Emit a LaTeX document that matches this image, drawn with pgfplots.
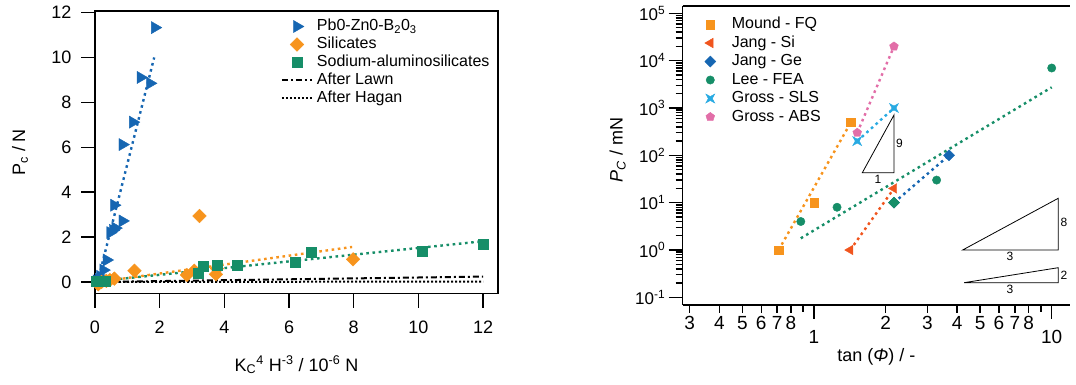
\documentclass[border=0pt]{standalone}
\usepackage{fontspec}
\setmainfont{Liberation Sans}
\usepackage{pgfplots}
\pgfplotsset{compat=1.18}
\definecolor{cblue}{RGB}{22,102,178}
\definecolor{corange}{RGB}{247,148,29}
\definecolor{cgreen}{RGB}{22,142,104}
\definecolor{cverm}{RGB}{240,85,30}
\definecolor{csky}{RGB}{40,170,226}
\definecolor{cpink}{RGB}{226,110,168}
\pgfdeclareplotmark{fourstar}{%
  \pgfpathmoveto{\pgfqpoint{\pgfplotmarksize}{\pgfplotmarksize}}%
  \pgfpathlineto{\pgfqpoint{0pt}{0.45\pgfplotmarksize}}%
  \pgfpathlineto{\pgfqpoint{-\pgfplotmarksize}{\pgfplotmarksize}}%
  \pgfpathlineto{\pgfqpoint{-0.45\pgfplotmarksize}{0pt}}%
  \pgfpathlineto{\pgfqpoint{-\pgfplotmarksize}{-\pgfplotmarksize}}%
  \pgfpathlineto{\pgfqpoint{0pt}{-0.45\pgfplotmarksize}}%
  \pgfpathlineto{\pgfqpoint{\pgfplotmarksize}{-\pgfplotmarksize}}%
  \pgfpathlineto{\pgfqpoint{0.45\pgfplotmarksize}{0pt}}%
  \pgfpathclose
  \pgfusepathqfillstroke}
\pgfplotsset{
  trend/.style={line width=2.4pt, dash pattern=on 2.6pt off 3.6pt, forget plot},
  legend image code/.code={\draw[mark repeat=2,mark phase=2,#1] plot coordinates {(0pt,0pt)(15pt,0pt)(30pt,0pt)};},
}
\begin{document}
\begin{tikzpicture}
\path[use as bounding box] (0,0) rectangle (1076pt,385pt);
% ---------------- left axis ----------------
\begin{axis}[
  at={(95pt,91.2pt)}, anchor=south west, scale only axis,
  width=403pt, height=282.8pt,
  xmin=0, xmax=12.46, ymin=-0.526, ymax=12.07,
  xtick={0,2,...,12}, ytick={0,2,...,12},
  tick pos=left, tick align=outside, major tick length=14pt,
  /pgf/number format/assume math mode=true,
  tick label style={font=\fontsize{18}{20}\selectfont},
  xticklabel style={yshift=-10pt},
  yticklabel style={xshift=-6pt},
  axis line style={line width=1.4pt},
  every tick/.style={line width=1.4pt, black},
  xlabel={K\textsubscript{C}\textsuperscript{4} H\textsuperscript{-3} / 10\textsuperscript{-6} N},
  ylabel={P\textsubscript{c} / N},
  label style={font=\fontsize{18}{20}\selectfont},
  xlabel style={at={(axis description cs:0.5,-0.252)}, anchor=center},
  ylabel style={at={(axis description cs:-0.186,0.5)}, anchor=center},
  legend style={draw=none, fill=none, at={(0.4615,0.977)}, anchor=north west,
    inner sep=0pt, outer sep=0pt, font=\fontsize{16}{18}\selectfont,
    row sep=0pt, column sep=3pt,
    nodes={inner sep=1pt, text height=12pt, text depth=4pt}},
  legend cell align=left,
]
\addplot[cblue, trend] coordinates {(0.08,0) (1.83,10.0)};
\addplot[corange, trend] coordinates {(0.1,0) (7.95,1.56)};
\addplot[cgreen, trend] coordinates {(0,0.02) (11.9,1.8)};
\addplot[only marks, color=cblue, mark=triangle*, mark size=7pt, mark options={rotate=-90, fill=cblue, draw=cblue}]
 coordinates {(0.05,0.05) (0.12,0.12) (0.16,0.25) (0.26,0.53) (0.36,0.98) (0.47,2.2) (0.55,2.3) (0.63,2.4)
 (0.85,2.72) (0.59,3.42) (0.85,6.12) (1.17,7.12) (1.41,9.11) (1.70,8.85) (1.85,11.33)};
\addplot[only marks, color=corange, mark=square*, mark size=4.8pt, mark options={rotate=45, fill=corange, draw=corange}]
 coordinates {(0.1,-0.1) (0.2,0.0) (0.35,0.05) (0.46,0.09) (0.6,0.15) (1.22,0.50) (2.84,0.31) (3.07,0.50)
 (3.23,2.94) (3.74,0.34) (3.77,0.60) (7.98,1.01)};
\addplot[only marks, color=cgreen, mark=square*, mark size=5pt, mark options={fill=cgreen, draw=cgreen}]
 coordinates {(0.05,0.05) (0.3,0.05) (3.19,0.41) (3.35,0.71) (3.77,0.76) (4.41,0.76) (6.19,0.88) (6.69,1.31) (10.13,1.39) (11.99,1.69)};
\addplot[black, line width=2pt, dash pattern=on 6pt off 3pt on 2pt off 3pt] coordinates {(0,0) (12,0.24)};
\addplot[black, line width=2pt, dash pattern=on 2pt off 2pt] coordinates {(0,0) (12,0.02)};
\legend{Pb0-Zn0-B\textsubscript{2}0\textsubscript{3}, Silicates, Sodium-aluminosilicates, After Lawn, After Hagan}
\end{axis}
% ---------------- right axis ----------------
\begin{axis}[
  at={(682.7pt,80pt)}, anchor=south west, scale only axis,
  width=387.3pt, height=299pt,
  xmode=log, ymode=log,
  xmin=0.2803, xmax=11.94, ymin=0.0689, ymax=1.43e5,
  axis x line*=bottom, axis y line*=left, clip=false,
  tick align=outside, major tick length=14pt, minor tick length=7pt,
  axis line style={line width=1.4pt},
  every tick/.style={line width=1.4pt, black},
  ytick={0.1,1,10,100,1000,10000,100000},
  yticklabels={10\textsuperscript{-1},10\textsuperscript{0},10\textsuperscript{1},10\textsuperscript{2},10\textsuperscript{3},10\textsuperscript{4},10\textsuperscript{5}},
  minor ytick={0.2,0.3,0.4,0.5,0.6,0.7,0.8,0.9,2,3,4,5,6,7,8,9,20,30,40,50,60,70,80,90,200,300,400,500,600,700,800,900,2000,3000,4000,5000,6000,7000,8000,9000,20000,30000,40000,50000,60000,70000,80000,90000},
  yticklabel style={font=\fontsize{17}{19}\selectfont},
  xtick={1,10}, xticklabels={1,10},
  xticklabel style={font=\fontsize{19}{21}\selectfont, yshift=-8pt},
  minor xtick={0.3,0.4,0.5,0.6,0.7,0.8,0.9,2,3,4,5,6,7,8,9},
  extra x ticks={0.3,0.4,0.5,0.6,0.7,0.8,2,3,4,5,6,7,8},
  extra x tick labels={3,4,5,6,7,8,2,3,4,5,6,7,8},
  extra x tick style={major tick length=8pt, tick label style={font=\fontsize{14}{16}\selectfont, yshift=8pt}},
  xlabel={tan (\textit{Φ}) / -},
  ylabel={\textit{P}\textsubscript{\textit{C}} / mN},
  label style={font=\fontsize{18}{20}\selectfont},
  xlabel style={at={(axis description cs:0.5,-0.173)}, anchor=center},
  ylabel style={at={(axis description cs:-0.168,0.518)}, anchor=center},
  legend style={draw=none, fill=none, at={(0.057,0.969)}, anchor=north west,
    inner sep=0pt, outer sep=0pt, font=\fontsize{16}{18}\selectfont,
    row sep=0pt, column sep=15pt,
    nodes={inner sep=1pt, text height=12.5pt, text depth=4pt}},
  legend cell align=left,
]
\addplot[corange, trend] coordinates {(0.71,1) (1.43,500)};
\addplot[cverm, trend] coordinates {(1.42,1) (2.17,20)};
\addplot[cblue, trend] coordinates {(2.17,10) (3.7,100)};
\addplot[cgreen, trend] coordinates {(0.88,1.77) (10,2740)};
\addplot[csky, trend] coordinates {(1.52,200) (2.17,1000)};
\addplot[cpink, trend] coordinates {(1.52,300) (2.17,20000)};
\addplot[only marks, color=corange, mark=square*, mark size=4.3pt, mark options={fill=corange, draw=corange}]
 coordinates {(0.71,1) (1.0,10) (1.43,500)};
\addplot[only marks, color=cverm, mark=triangle*, mark size=5.5pt, mark options={rotate=90, fill=cverm, draw=cverm}]
 coordinates {(1.42,1) (2.17,20)};
\addplot[only marks, color=cblue, mark=square*, mark size=3.9pt, mark options={rotate=45, fill=cblue, draw=cblue}]
 coordinates {(2.17,10) (3.7,100)};
\addplot[only marks, color=cgreen, mark=*, mark size=4.2pt, mark options={fill=cgreen, draw=cgreen}]
 coordinates {(0.88,4) (1.25,8) (3.28,30) (10,7000)};
\addplot[only marks, color=csky, mark=fourstar, mark size=4.5pt, mark options={fill=csky, draw=csky}]
 coordinates {(1.52,200) (2.17,1000)};
\addplot[only marks, color=cpink, mark=pentagon*, mark size=4.6pt, mark options={fill=cpink, draw=cpink}]
 coordinates {(1.52,300) (2.17,20000)};
\addplot[only marks, forget plot, color=cgreen, mark=square*, mark size=3.9pt, mark options={rotate=45, fill=cgreen, draw=cgreen}]
 coordinates {(2.17,10)};
\legend{Mound - FQ, Jang - Si, Jang - Ge, Lee - FEA, Gross - SLS, Gross - ABS}
\draw[line width=1.4pt] (rel axis cs:0,1) -- (rel axis cs:1,1);
\draw[black, line width=0.8pt] (axis cs:1.597,43) -- (axis cs:2.17,43) -- (axis cs:2.17,711) -- cycle;
\node[anchor=west, inner sep=2pt, font=\fontsize{12}{14}\selectfont] at (axis cs:2.17,180) {9};
\node[anchor=north, inner sep=2pt, font=\fontsize{12}{14}\selectfont] at (axis cs:1.86,43) {1};
\draw[black, line width=0.8pt] (axis cs:4.22,1) -- (axis cs:10.66,1) -- (axis cs:10.66,12.4) -- cycle;
\node[anchor=west, inner sep=2pt, font=\fontsize{12}{14}\selectfont] at (axis cs:10.66,3.8) {8};
\node[anchor=north, inner sep=2pt, font=\fontsize{12}{14}\selectfont] at (axis cs:6.68,1) {3};
\draw[black, line width=0.8pt] (axis cs:4.28,0.204) -- (axis cs:10.66,0.204) -- (axis cs:10.66,0.423) -- cycle;
\node[anchor=west, inner sep=2pt, font=\fontsize{12}{14}\selectfont] at (axis cs:10.66,0.292) {2};
\node[anchor=north, inner sep=2pt, font=\fontsize{12}{14}\selectfont] at (axis cs:6.68,0.204) {3};
\end{axis}
\end{tikzpicture}
\end{document}
